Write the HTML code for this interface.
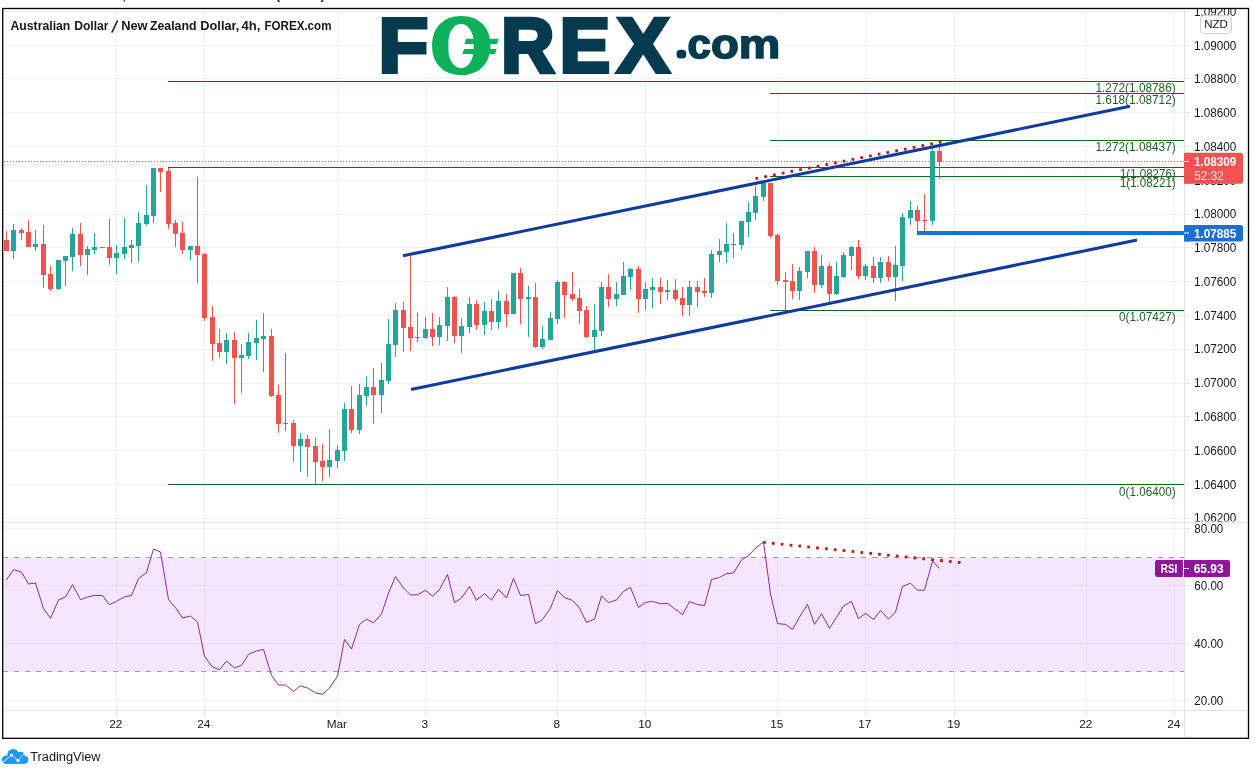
<!DOCTYPE html>
<html lang="en"><head><meta charset="utf-8"><title>AUD/NZD 4h chart</title>
<style>
html,body{margin:0;padding:0;background:#fff;}
svg text{font-family:"Liberation Sans", Arial, sans-serif;}
body{width:1255px;height:775px;position:relative;overflow:hidden;font-family:"Liberation Sans", Arial, sans-serif;}
</style></head><body>
<svg width="1255" height="775" viewBox="0 0 1255 775" style="position:absolute;left:0;top:0">
<rect x="0" y="0" width="1255" height="775" fill="#fff"/>
<defs><clipPath id="cpMain"><rect x="3" y="9" width="1245" height="512.5"/></clipPath><clipPath id="cpAll"><rect x="3" y="9" width="1245" height="729"/></clipPath></defs>
<g shape-rendering="crispEdges" stroke="#f0f0f1" stroke-width="1">
<line x1="116.5" y1="9" x2="116.5" y2="710"/>
<line x1="116.5" y1="710" x2="116.5" y2="716" stroke="#e1e3e9"/>
<line x1="204.5" y1="9" x2="204.5" y2="710"/>
<line x1="204.5" y1="710" x2="204.5" y2="716" stroke="#e1e3e9"/>
<line x1="337.5" y1="9" x2="337.5" y2="710"/>
<line x1="337.5" y1="710" x2="337.5" y2="716" stroke="#e1e3e9"/>
<line x1="425.5" y1="9" x2="425.5" y2="710"/>
<line x1="425.5" y1="710" x2="425.5" y2="716" stroke="#e1e3e9"/>
<line x1="557.5" y1="9" x2="557.5" y2="710"/>
<line x1="557.5" y1="710" x2="557.5" y2="716" stroke="#e1e3e9"/>
<line x1="645.5" y1="9" x2="645.5" y2="710"/>
<line x1="645.5" y1="710" x2="645.5" y2="716" stroke="#e1e3e9"/>
<line x1="777.5" y1="9" x2="777.5" y2="710"/>
<line x1="777.5" y1="710" x2="777.5" y2="716" stroke="#e1e3e9"/>
<line x1="865.5" y1="9" x2="865.5" y2="710"/>
<line x1="865.5" y1="710" x2="865.5" y2="716" stroke="#e1e3e9"/>
<line x1="954.5" y1="9" x2="954.5" y2="710"/>
<line x1="954.5" y1="710" x2="954.5" y2="716" stroke="#e1e3e9"/>
<line x1="1086.5" y1="9" x2="1086.5" y2="710"/>
<line x1="1086.5" y1="710" x2="1086.5" y2="716" stroke="#e1e3e9"/>
<line x1="1174.5" y1="9" x2="1174.5" y2="710"/>
<line x1="1174.5" y1="710" x2="1174.5" y2="716" stroke="#e1e3e9"/>
<line x1="3" y1="518.5" x2="1184" y2="518.5"/>
<line x1="1184" y1="518.5" x2="1189" y2="518.5" stroke="#e1e3e9"/>
<line x1="3" y1="484.5" x2="1184" y2="484.5"/>
<line x1="1184" y1="484.5" x2="1189" y2="484.5" stroke="#e1e3e9"/>
<line x1="3" y1="450.5" x2="1184" y2="450.5"/>
<line x1="1184" y1="450.5" x2="1189" y2="450.5" stroke="#e1e3e9"/>
<line x1="3" y1="416.5" x2="1184" y2="416.5"/>
<line x1="1184" y1="416.5" x2="1189" y2="416.5" stroke="#e1e3e9"/>
<line x1="3" y1="383.5" x2="1184" y2="383.5"/>
<line x1="1184" y1="383.5" x2="1189" y2="383.5" stroke="#e1e3e9"/>
<line x1="3" y1="349.5" x2="1184" y2="349.5"/>
<line x1="1184" y1="349.5" x2="1189" y2="349.5" stroke="#e1e3e9"/>
<line x1="3" y1="315.5" x2="1184" y2="315.5"/>
<line x1="1184" y1="315.5" x2="1189" y2="315.5" stroke="#e1e3e9"/>
<line x1="3" y1="281.5" x2="1184" y2="281.5"/>
<line x1="1184" y1="281.5" x2="1189" y2="281.5" stroke="#e1e3e9"/>
<line x1="3" y1="247.5" x2="1184" y2="247.5"/>
<line x1="1184" y1="247.5" x2="1189" y2="247.5" stroke="#e1e3e9"/>
<line x1="3" y1="214.5" x2="1184" y2="214.5"/>
<line x1="1184" y1="214.5" x2="1189" y2="214.5" stroke="#e1e3e9"/>
<line x1="3" y1="180.5" x2="1184" y2="180.5"/>
<line x1="1184" y1="180.5" x2="1189" y2="180.5" stroke="#e1e3e9"/>
<line x1="3" y1="146.5" x2="1184" y2="146.5"/>
<line x1="1184" y1="146.5" x2="1189" y2="146.5" stroke="#e1e3e9"/>
<line x1="3" y1="112.5" x2="1184" y2="112.5"/>
<line x1="1184" y1="112.5" x2="1189" y2="112.5" stroke="#e1e3e9"/>
<line x1="3" y1="78.5" x2="1184" y2="78.5"/>
<line x1="1184" y1="78.5" x2="1189" y2="78.5" stroke="#e1e3e9"/>
<line x1="3" y1="45.5" x2="1184" y2="45.5"/>
<line x1="1184" y1="45.5" x2="1189" y2="45.5" stroke="#e1e3e9"/>
<line x1="3" y1="11.5" x2="1184" y2="11.5"/>
<line x1="1184" y1="11.5" x2="1189" y2="11.5" stroke="#e1e3e9"/>
<line x1="3" y1="528.5" x2="1184" y2="528.5"/>
<line x1="1184" y1="528.5" x2="1189" y2="528.5" stroke="#e1e3e9"/>
<line x1="3" y1="585.5" x2="1184" y2="585.5"/>
<line x1="1184" y1="585.5" x2="1189" y2="585.5" stroke="#e1e3e9"/>
<line x1="3" y1="643.5" x2="1184" y2="643.5"/>
<line x1="1184" y1="643.5" x2="1189" y2="643.5" stroke="#e1e3e9"/>
<line x1="3" y1="700.5" x2="1184" y2="700.5"/>
<line x1="1184" y1="700.5" x2="1189" y2="700.5" stroke="#e1e3e9"/>
</g>
<rect x="3" y="557" width="1181" height="115" fill="#f4e7fd"/>
<g stroke="#eadff1" stroke-width="1" shape-rendering="crispEdges">
<line x1="116.5" y1="558" x2="116.5" y2="671"/>
<line x1="204.5" y1="558" x2="204.5" y2="671"/>
<line x1="337.5" y1="558" x2="337.5" y2="671"/>
<line x1="425.5" y1="558" x2="425.5" y2="671"/>
<line x1="557.5" y1="558" x2="557.5" y2="671"/>
<line x1="645.5" y1="558" x2="645.5" y2="671"/>
<line x1="777.5" y1="558" x2="777.5" y2="671"/>
<line x1="865.5" y1="558" x2="865.5" y2="671"/>
<line x1="954.5" y1="558" x2="954.5" y2="671"/>
<line x1="1086.5" y1="558" x2="1086.5" y2="671"/>
<line x1="1174.5" y1="558" x2="1174.5" y2="671"/>
<line x1="3" y1="585.5" x2="1184" y2="585.5"/>
<line x1="3" y1="643.5" x2="1184" y2="643.5"/>
</g>
<g stroke="#a298aa" stroke-width="1" stroke-dasharray="5 6" shape-rendering="crispEdges"><line x1="3" y1="557.5" x2="1184" y2="557.5"/><line x1="3" y1="671.5" x2="1184" y2="671.5"/></g>
<g text-rendering="geometricPrecision">
<rect x="380" y="15.4" width="399.2" height="59.7" fill="#fff"/>
<text transform="matrix(0.8141 0 0 0.7704 378.45 72.20)" x="0" y="0" font-size="100px" font-weight="bold" fill="#053a4f" stroke="#053a4f" stroke-width="5.30" stroke-linejoin="miter">F</text>
<text transform="matrix(0.7398 0 0 0.7373 432.47 70.78)" x="0" y="0" font-size="100px" font-weight="bold" fill="#0db15c" stroke="#0db15c" stroke-width="9.48" stroke-linejoin="round">O</text>
<ellipse cx="461.2" cy="45.4" rx="21" ry="25.5" fill="#0db15c"/>
<rect x="448.4" y="23.9" width="25.2" height="44.3" rx="12.6" ry="18.5" fill="#fff"/>
<polygon points="466.1,38.8 498.8,38.8 497.0,44.0 464.3,44.0" fill="#0db15c"/>
<polygon points="464.1,49.0 496.8,49.0 495.0,54.1 462.3,54.1" fill="#0db15c"/>
<text transform="matrix(0.7341 0 0 0.7704 501.29 72.20)" x="0" y="0" font-size="100px" font-weight="bold" fill="#053a4f" stroke="#053a4f" stroke-width="5.58" stroke-linejoin="miter">R</text>
<text transform="matrix(0.7540 0 0 0.7704 559.86 72.20)" x="0" y="0" font-size="100px" font-weight="bold" fill="#053a4f" stroke="#053a4f" stroke-width="5.51" stroke-linejoin="miter">E</text>
<text transform="matrix(0.7853 0 0 0.7733 617.11 72.30)" x="0" y="0" font-size="100px" font-weight="bold" fill="#053a4f" stroke="#053a4f" stroke-width="5.13" stroke-linejoin="miter">X</text>
<text transform="matrix(0.1205 0 0 0.1074 679.68 54.80)" x="0" y="0" font-size="100px" font-weight="bold" fill="#053a4f" stroke="#053a4f" stroke-width="66.80" stroke-linejoin="round">.</text>
<text transform="matrix(0.4182 0 0 0.4143 687.47 58.10)" x="0" y="0" font-size="100px" font-weight="bold" fill="#053a4f" stroke="#053a4f" stroke-width="3.84" stroke-linejoin="miter">c</text>
<text transform="matrix(0.4562 0 0 0.4143 711.12 58.10)" x="0" y="0" font-size="100px" font-weight="bold" fill="#053a4f" stroke="#053a4f" stroke-width="3.68" stroke-linejoin="miter">o</text>
<text transform="matrix(0.4664 0 0 0.4029 738.83 57.70)" x="0" y="0" font-size="100px" font-weight="bold" fill="#053a4f" stroke="#053a4f" stroke-width="3.69" stroke-linejoin="miter">m</text>
</g>
<g stroke="#1f6124" stroke-width="1" shape-rendering="crispEdges">
<line x1="168" y1="81.5" x2="1184" y2="81.5"/>
<line x1="770" y1="93.5" x2="1184" y2="93.5"/>
<line x1="770" y1="140.5" x2="1184" y2="140.5"/>
<line x1="168" y1="167.5" x2="1184" y2="167.5"/>
<line x1="770" y1="176.5" x2="1184" y2="176.5"/>
<line x1="770" y1="310.5" x2="1184" y2="310.5"/>
<line x1="168" y1="484.5" x2="1184" y2="484.5"/>
</g>
<g fill="#1f6124" font-size="12px" text-anchor="end">
<text x="1175.7" y="91.8" textLength="80.2" lengthAdjust="spacingAndGlyphs">1.272(1.08786)</text>
<text x="1175.7" y="103.6" textLength="80.2" lengthAdjust="spacingAndGlyphs">1.618(1.08712)</text>
<text x="1175.7" y="150.6" textLength="80.2" lengthAdjust="spacingAndGlyphs">1.272(1.08437)</text>
<text x="1175.7" y="177.5" textLength="55.8" lengthAdjust="spacingAndGlyphs">1(1.08276)</text>
<text x="1175.7" y="186.5" textLength="55.8" lengthAdjust="spacingAndGlyphs">1(1.08221)</text>
<text x="1175.7" y="320.5" textLength="56.6" lengthAdjust="spacingAndGlyphs">0(1.07427)</text>
<text x="1175.7" y="495.5" textLength="56.6" lengthAdjust="spacingAndGlyphs">0(1.06400)</text>
</g>
<line x1="4" y1="161.5" x2="1184" y2="161.5" stroke="#ef5350" stroke-width="1" stroke-dasharray="1 2" shape-rendering="crispEdges"/>
<g shape-rendering="crispEdges" clip-path="url(#cpMain)">
<rect x="6" y="231" width="1" height="20" fill="#ef5350"/>
<rect x="4" y="240" width="5" height="11" fill="#ef5350"/>
<rect x="13" y="224" width="1" height="35" fill="#26a69a"/>
<rect x="11" y="230" width="5" height="21" fill="#26a69a"/>
<rect x="21" y="228" width="1" height="12" fill="#ef5350"/>
<rect x="19" y="230" width="5" height="3" fill="#ef5350"/>
<rect x="28" y="220" width="1" height="27" fill="#ef5350"/>
<rect x="26" y="232" width="5" height="15" fill="#ef5350"/>
<rect x="35" y="230" width="1" height="21" fill="#26a69a"/>
<rect x="33" y="244" width="5" height="3" fill="#26a69a"/>
<rect x="43" y="225" width="1" height="63" fill="#ef5350"/>
<rect x="41" y="244" width="5" height="31" fill="#ef5350"/>
<rect x="50" y="266" width="1" height="25" fill="#ef5350"/>
<rect x="48" y="274" width="5" height="15" fill="#ef5350"/>
<rect x="58" y="260" width="1" height="30" fill="#26a69a"/>
<rect x="56" y="260" width="5" height="29" fill="#26a69a"/>
<rect x="65" y="256" width="1" height="30" fill="#26a69a"/>
<rect x="63" y="256" width="5" height="5" fill="#26a69a"/>
<rect x="72" y="228" width="1" height="43" fill="#26a69a"/>
<rect x="70" y="234" width="5" height="23" fill="#26a69a"/>
<rect x="80" y="223" width="1" height="43" fill="#ef5350"/>
<rect x="78" y="234" width="5" height="21" fill="#ef5350"/>
<rect x="87" y="246" width="1" height="29" fill="#26a69a"/>
<rect x="85" y="249" width="5" height="6" fill="#26a69a"/>
<rect x="94" y="233" width="1" height="21" fill="#26a69a"/>
<rect x="92" y="247" width="5" height="3" fill="#26a69a"/>
<rect x="102" y="247" width="1" height="1" fill="#ef5350"/>
<rect x="100" y="247" width="5" height="1" fill="#ef5350"/>
<rect x="109" y="219" width="1" height="46" fill="#ef5350"/>
<rect x="107" y="247" width="5" height="11" fill="#ef5350"/>
<rect x="116" y="245" width="1" height="29" fill="#26a69a"/>
<rect x="114" y="253" width="5" height="5" fill="#26a69a"/>
<rect x="124" y="218" width="1" height="41" fill="#26a69a"/>
<rect x="122" y="247" width="5" height="7" fill="#26a69a"/>
<rect x="131" y="240" width="1" height="23" fill="#26a69a"/>
<rect x="129" y="245" width="5" height="3" fill="#26a69a"/>
<rect x="138" y="212" width="1" height="50" fill="#26a69a"/>
<rect x="136" y="223" width="5" height="23" fill="#26a69a"/>
<rect x="146" y="185" width="1" height="41" fill="#26a69a"/>
<rect x="144" y="215" width="5" height="9" fill="#26a69a"/>
<rect x="153" y="168" width="1" height="55" fill="#26a69a"/>
<rect x="151" y="168" width="5" height="48" fill="#26a69a"/>
<rect x="160" y="168" width="1" height="24" fill="#ef5350"/>
<rect x="158" y="168" width="5" height="4" fill="#ef5350"/>
<rect x="168" y="168" width="1" height="61" fill="#ef5350"/>
<rect x="166" y="171" width="5" height="53" fill="#ef5350"/>
<rect x="175" y="220" width="1" height="27" fill="#ef5350"/>
<rect x="173" y="223" width="5" height="11" fill="#ef5350"/>
<rect x="182" y="222" width="1" height="32" fill="#ef5350"/>
<rect x="180" y="233" width="5" height="17" fill="#ef5350"/>
<rect x="190" y="246" width="1" height="14" fill="#26a69a"/>
<rect x="188" y="246" width="5" height="4" fill="#26a69a"/>
<rect x="197" y="177" width="1" height="106" fill="#ef5350"/>
<rect x="195" y="246" width="5" height="9" fill="#ef5350"/>
<rect x="204" y="253" width="1" height="68" fill="#ef5350"/>
<rect x="202" y="254" width="5" height="64" fill="#ef5350"/>
<rect x="212" y="306" width="1" height="55" fill="#ef5350"/>
<rect x="210" y="317" width="5" height="27" fill="#ef5350"/>
<rect x="219" y="329" width="1" height="29" fill="#ef5350"/>
<rect x="217" y="343" width="5" height="9" fill="#ef5350"/>
<rect x="226" y="333" width="1" height="31" fill="#26a69a"/>
<rect x="224" y="340" width="5" height="12" fill="#26a69a"/>
<rect x="234" y="332" width="1" height="72" fill="#ef5350"/>
<rect x="232" y="340" width="5" height="18" fill="#ef5350"/>
<rect x="241" y="344" width="1" height="49" fill="#26a69a"/>
<rect x="239" y="355" width="5" height="3" fill="#26a69a"/>
<rect x="248" y="333" width="1" height="26" fill="#26a69a"/>
<rect x="246" y="342" width="5" height="14" fill="#26a69a"/>
<rect x="256" y="320" width="1" height="40" fill="#26a69a"/>
<rect x="254" y="338" width="5" height="5" fill="#26a69a"/>
<rect x="263" y="313" width="1" height="59" fill="#26a69a"/>
<rect x="261" y="336" width="5" height="3" fill="#26a69a"/>
<rect x="271" y="329" width="1" height="68" fill="#ef5350"/>
<rect x="269" y="336" width="5" height="60" fill="#ef5350"/>
<rect x="278" y="385" width="1" height="48" fill="#ef5350"/>
<rect x="276" y="395" width="5" height="29" fill="#ef5350"/>
<rect x="285" y="353" width="1" height="78" fill="#26a69a"/>
<rect x="283" y="423" width="5" height="1" fill="#26a69a"/>
<rect x="293" y="420" width="1" height="42" fill="#ef5350"/>
<rect x="291" y="423" width="5" height="23" fill="#ef5350"/>
<rect x="300" y="433" width="1" height="39" fill="#26a69a"/>
<rect x="298" y="439" width="5" height="7" fill="#26a69a"/>
<rect x="307" y="435" width="1" height="42" fill="#ef5350"/>
<rect x="305" y="439" width="5" height="8" fill="#ef5350"/>
<rect x="315" y="438" width="1" height="46" fill="#ef5350"/>
<rect x="313" y="446" width="5" height="16" fill="#ef5350"/>
<rect x="322" y="444" width="1" height="37" fill="#ef5350"/>
<rect x="320" y="461" width="5" height="6" fill="#ef5350"/>
<rect x="329" y="429" width="1" height="48" fill="#26a69a"/>
<rect x="327" y="460" width="5" height="7" fill="#26a69a"/>
<rect x="337" y="445" width="1" height="23" fill="#26a69a"/>
<rect x="335" y="450" width="5" height="11" fill="#26a69a"/>
<rect x="344" y="403" width="1" height="58" fill="#26a69a"/>
<rect x="342" y="409" width="5" height="42" fill="#26a69a"/>
<rect x="351" y="386" width="1" height="47" fill="#ef5350"/>
<rect x="349" y="409" width="5" height="21" fill="#ef5350"/>
<rect x="359" y="384" width="1" height="50" fill="#26a69a"/>
<rect x="357" y="395" width="5" height="35" fill="#26a69a"/>
<rect x="366" y="377" width="1" height="29" fill="#26a69a"/>
<rect x="364" y="387" width="5" height="9" fill="#26a69a"/>
<rect x="373" y="368" width="1" height="55" fill="#ef5350"/>
<rect x="371" y="387" width="5" height="8" fill="#ef5350"/>
<rect x="381" y="363" width="1" height="50" fill="#26a69a"/>
<rect x="379" y="380" width="5" height="15" fill="#26a69a"/>
<rect x="388" y="319" width="1" height="65" fill="#26a69a"/>
<rect x="386" y="344" width="5" height="37" fill="#26a69a"/>
<rect x="395" y="303" width="1" height="54" fill="#26a69a"/>
<rect x="393" y="310" width="5" height="35" fill="#26a69a"/>
<rect x="403" y="302" width="1" height="50" fill="#ef5350"/>
<rect x="401" y="310" width="5" height="18" fill="#ef5350"/>
<rect x="410" y="256" width="1" height="95" fill="#ef5350"/>
<rect x="408" y="327" width="5" height="11" fill="#ef5350"/>
<rect x="417" y="313" width="1" height="29" fill="#26a69a"/>
<rect x="415" y="337" width="5" height="1" fill="#26a69a"/>
<rect x="425" y="317" width="1" height="22" fill="#26a69a"/>
<rect x="423" y="329" width="5" height="9" fill="#26a69a"/>
<rect x="432" y="313" width="1" height="33" fill="#ef5350"/>
<rect x="430" y="329" width="5" height="8" fill="#ef5350"/>
<rect x="439" y="317" width="1" height="28" fill="#26a69a"/>
<rect x="437" y="325" width="5" height="12" fill="#26a69a"/>
<rect x="447" y="287" width="1" height="54" fill="#26a69a"/>
<rect x="445" y="297" width="5" height="29" fill="#26a69a"/>
<rect x="454" y="296" width="1" height="47" fill="#ef5350"/>
<rect x="452" y="297" width="5" height="39" fill="#ef5350"/>
<rect x="461" y="318" width="1" height="35" fill="#26a69a"/>
<rect x="459" y="326" width="5" height="10" fill="#26a69a"/>
<rect x="469" y="297" width="1" height="36" fill="#26a69a"/>
<rect x="467" y="304" width="5" height="23" fill="#26a69a"/>
<rect x="476" y="300" width="1" height="30" fill="#ef5350"/>
<rect x="474" y="304" width="5" height="21" fill="#ef5350"/>
<rect x="484" y="302" width="1" height="33" fill="#26a69a"/>
<rect x="482" y="311" width="5" height="14" fill="#26a69a"/>
<rect x="491" y="299" width="1" height="31" fill="#ef5350"/>
<rect x="489" y="311" width="5" height="11" fill="#ef5350"/>
<rect x="498" y="291" width="1" height="38" fill="#26a69a"/>
<rect x="496" y="301" width="5" height="21" fill="#26a69a"/>
<rect x="506" y="294" width="1" height="33" fill="#ef5350"/>
<rect x="504" y="301" width="5" height="13" fill="#ef5350"/>
<rect x="513" y="273" width="1" height="41" fill="#26a69a"/>
<rect x="511" y="273" width="5" height="41" fill="#26a69a"/>
<rect x="520" y="268" width="1" height="56" fill="#ef5350"/>
<rect x="518" y="273" width="5" height="26" fill="#ef5350"/>
<rect x="528" y="286" width="1" height="51" fill="#26a69a"/>
<rect x="526" y="297" width="5" height="2" fill="#26a69a"/>
<rect x="535" y="283" width="1" height="65" fill="#ef5350"/>
<rect x="533" y="297" width="5" height="50" fill="#ef5350"/>
<rect x="542" y="326" width="1" height="23" fill="#26a69a"/>
<rect x="540" y="339" width="5" height="8" fill="#26a69a"/>
<rect x="550" y="312" width="1" height="28" fill="#26a69a"/>
<rect x="548" y="318" width="5" height="22" fill="#26a69a"/>
<rect x="557" y="280" width="1" height="44" fill="#26a69a"/>
<rect x="555" y="282" width="5" height="37" fill="#26a69a"/>
<rect x="564" y="281" width="1" height="37" fill="#ef5350"/>
<rect x="562" y="282" width="5" height="13" fill="#ef5350"/>
<rect x="572" y="272" width="1" height="29" fill="#ef5350"/>
<rect x="570" y="294" width="5" height="5" fill="#ef5350"/>
<rect x="579" y="289" width="1" height="35" fill="#ef5350"/>
<rect x="577" y="298" width="5" height="13" fill="#ef5350"/>
<rect x="586" y="306" width="1" height="32" fill="#ef5350"/>
<rect x="584" y="310" width="5" height="27" fill="#ef5350"/>
<rect x="594" y="304" width="1" height="46" fill="#26a69a"/>
<rect x="592" y="330" width="5" height="7" fill="#26a69a"/>
<rect x="601" y="282" width="1" height="54" fill="#26a69a"/>
<rect x="599" y="287" width="5" height="44" fill="#26a69a"/>
<rect x="608" y="274" width="1" height="33" fill="#ef5350"/>
<rect x="606" y="287" width="5" height="12" fill="#ef5350"/>
<rect x="616" y="282" width="1" height="24" fill="#26a69a"/>
<rect x="614" y="294" width="5" height="5" fill="#26a69a"/>
<rect x="623" y="262" width="1" height="33" fill="#26a69a"/>
<rect x="621" y="276" width="5" height="19" fill="#26a69a"/>
<rect x="630" y="268" width="1" height="22" fill="#26a69a"/>
<rect x="628" y="269" width="5" height="8" fill="#26a69a"/>
<rect x="638" y="266" width="1" height="47" fill="#ef5350"/>
<rect x="636" y="269" width="5" height="30" fill="#ef5350"/>
<rect x="645" y="282" width="1" height="28" fill="#26a69a"/>
<rect x="643" y="289" width="5" height="10" fill="#26a69a"/>
<rect x="652" y="278" width="1" height="30" fill="#26a69a"/>
<rect x="650" y="287" width="5" height="3" fill="#26a69a"/>
<rect x="660" y="278" width="1" height="26" fill="#ef5350"/>
<rect x="658" y="287" width="5" height="5" fill="#ef5350"/>
<rect x="667" y="280" width="1" height="20" fill="#26a69a"/>
<rect x="665" y="290" width="5" height="2" fill="#26a69a"/>
<rect x="675" y="279" width="1" height="22" fill="#ef5350"/>
<rect x="673" y="290" width="5" height="9" fill="#ef5350"/>
<rect x="682" y="287" width="1" height="29" fill="#ef5350"/>
<rect x="680" y="298" width="5" height="7" fill="#ef5350"/>
<rect x="689" y="281" width="1" height="35" fill="#26a69a"/>
<rect x="687" y="287" width="5" height="18" fill="#26a69a"/>
<rect x="697" y="281" width="1" height="26" fill="#ef5350"/>
<rect x="695" y="287" width="5" height="5" fill="#ef5350"/>
<rect x="704" y="278" width="1" height="19" fill="#ef5350"/>
<rect x="702" y="291" width="5" height="2" fill="#ef5350"/>
<rect x="711" y="250" width="1" height="48" fill="#26a69a"/>
<rect x="709" y="254" width="5" height="39" fill="#26a69a"/>
<rect x="719" y="239" width="1" height="23" fill="#26a69a"/>
<rect x="717" y="251" width="5" height="4" fill="#26a69a"/>
<rect x="726" y="223" width="1" height="40" fill="#26a69a"/>
<rect x="724" y="244" width="5" height="8" fill="#26a69a"/>
<rect x="733" y="233" width="1" height="25" fill="#26a69a"/>
<rect x="731" y="244" width="5" height="1" fill="#26a69a"/>
<rect x="741" y="221" width="1" height="29" fill="#26a69a"/>
<rect x="739" y="221" width="5" height="24" fill="#26a69a"/>
<rect x="748" y="202" width="1" height="35" fill="#26a69a"/>
<rect x="746" y="212" width="5" height="10" fill="#26a69a"/>
<rect x="755" y="186" width="1" height="34" fill="#26a69a"/>
<rect x="753" y="196" width="5" height="17" fill="#26a69a"/>
<rect x="763" y="183" width="1" height="18" fill="#26a69a"/>
<rect x="761" y="183" width="5" height="14" fill="#26a69a"/>
<rect x="770" y="183" width="1" height="55" fill="#ef5350"/>
<rect x="768" y="183" width="5" height="53" fill="#ef5350"/>
<rect x="777" y="234" width="1" height="51" fill="#ef5350"/>
<rect x="775" y="235" width="5" height="46" fill="#ef5350"/>
<rect x="785" y="272" width="1" height="39" fill="#ef5350"/>
<rect x="783" y="280" width="5" height="2" fill="#ef5350"/>
<rect x="792" y="264" width="1" height="35" fill="#ef5350"/>
<rect x="790" y="281" width="5" height="10" fill="#ef5350"/>
<rect x="799" y="267" width="1" height="33" fill="#26a69a"/>
<rect x="797" y="271" width="5" height="20" fill="#26a69a"/>
<rect x="807" y="251" width="1" height="27" fill="#26a69a"/>
<rect x="805" y="251" width="5" height="21" fill="#26a69a"/>
<rect x="814" y="247" width="1" height="46" fill="#ef5350"/>
<rect x="812" y="251" width="5" height="34" fill="#ef5350"/>
<rect x="821" y="255" width="1" height="33" fill="#26a69a"/>
<rect x="819" y="266" width="5" height="19" fill="#26a69a"/>
<rect x="829" y="263" width="1" height="39" fill="#ef5350"/>
<rect x="827" y="266" width="5" height="28" fill="#ef5350"/>
<rect x="836" y="262" width="1" height="33" fill="#26a69a"/>
<rect x="834" y="276" width="5" height="18" fill="#26a69a"/>
<rect x="843" y="252" width="1" height="26" fill="#26a69a"/>
<rect x="841" y="255" width="5" height="22" fill="#26a69a"/>
<rect x="851" y="246" width="1" height="24" fill="#26a69a"/>
<rect x="849" y="247" width="5" height="9" fill="#26a69a"/>
<rect x="858" y="240" width="1" height="39" fill="#ef5350"/>
<rect x="856" y="247" width="5" height="29" fill="#ef5350"/>
<rect x="865" y="264" width="1" height="16" fill="#26a69a"/>
<rect x="863" y="266" width="5" height="10" fill="#26a69a"/>
<rect x="873" y="257" width="1" height="26" fill="#ef5350"/>
<rect x="871" y="266" width="5" height="12" fill="#ef5350"/>
<rect x="880" y="257" width="1" height="26" fill="#26a69a"/>
<rect x="878" y="262" width="5" height="16" fill="#26a69a"/>
<rect x="888" y="256" width="1" height="25" fill="#ef5350"/>
<rect x="886" y="262" width="5" height="15" fill="#ef5350"/>
<rect x="895" y="246" width="1" height="55" fill="#26a69a"/>
<rect x="893" y="265" width="5" height="12" fill="#26a69a"/>
<rect x="902" y="213" width="1" height="68" fill="#26a69a"/>
<rect x="900" y="217" width="5" height="49" fill="#26a69a"/>
<rect x="910" y="201" width="1" height="24" fill="#26a69a"/>
<rect x="908" y="210" width="5" height="8" fill="#26a69a"/>
<rect x="917" y="206" width="1" height="26" fill="#ef5350"/>
<rect x="915" y="210" width="5" height="11" fill="#ef5350"/>
<rect x="924" y="194" width="1" height="38" fill="#ef5350"/>
<rect x="922" y="220" width="5" height="1" fill="#ef5350"/>
<rect x="932" y="146" width="1" height="79" fill="#26a69a"/>
<rect x="930" y="151" width="5" height="70" fill="#26a69a"/>
<rect x="939" y="143" width="1" height="36" fill="#ef5350"/>
<rect x="937" y="151" width="5" height="11" fill="#ef5350"/>
</g>
<g stroke="#0d3c9c" stroke-width="3.1" stroke-linecap="butt">
<line x1="403" y1="255.8" x2="1130" y2="106.3"/>
<line x1="411" y1="389.4" x2="1137" y2="240.1"/>
</g>
<line x1="917" y1="232.9" x2="1184" y2="232.9" stroke="#1c70d0" stroke-width="4"/>
<g stroke="#b71c1c" stroke-width="2.8" stroke-dasharray="2.8 6.1">
<line x1="755.5" y1="178.6" x2="943.5" y2="141.5"/>
<line x1="763" y1="542.3" x2="961.8" y2="562.7"/>
</g>
<polyline points="6.5,580.0 13.5,569.6 21.5,572.0 28.5,584.0 35.5,583.0 43.5,608.6 50.5,618.4 58.5,600.0 65.5,597.0 72.5,584.6 80.5,599.6 87.5,597.0 94.5,595.4 102.5,595.6 109.5,604.6 116.5,601.4 124.5,596.8 131.5,595.4 138.5,578.6 146.5,572.6 153.5,549.0 160.5,552.0 168.5,599.6 175.5,607.6 182.5,618.0 190.5,616.0 197.5,622.0 204.5,656.4 212.5,667.0 219.5,669.8 226.5,661.0 234.5,667.8 241.5,665.4 248.5,654.4 256.5,651.0 263.5,649.4 271.5,675.4 278.5,685.0 285.5,685.0 293.5,691.4 300.5,685.8 307.5,688.0 315.5,692.8 322.5,694.4 329.5,688.0 337.5,676.0 344.5,639.4 351.5,649.0 359.5,624.4 366.5,619.2 373.5,622.8 381.5,614.0 388.5,593.0 395.5,576.6 403.5,588.0 410.5,595.0 417.5,594.8 425.5,590.4 432.5,596.0 439.5,589.6 447.5,574.4 454.5,602.6 461.5,598.0 469.5,586.4 476.5,600.2 484.5,593.6 491.5,600.0 498.5,589.4 506.5,598.0 513.5,578.4 520.5,595.4 528.5,594.6 535.5,623.6 542.5,619.6 550.5,608.0 557.5,590.6 564.5,597.6 572.5,600.4 579.5,608.0 586.5,622.4 594.5,619.2 601.5,596.0 608.5,602.6 616.5,600.0 623.5,591.2 630.5,587.6 638.5,607.4 645.5,602.4 652.5,601.4 660.5,603.8 667.5,603.4 675.5,609.4 682.5,614.6 689.5,601.6 697.5,604.6 704.5,605.6 711.5,579.6 719.5,577.4 726.5,573.6 733.5,573.0 741.5,560.0 748.5,555.6 755.5,548.0 763.5,542.0 770.5,594.0 777.5,623.6 785.5,624.4 792.5,629.6 799.5,617.0 807.5,604.4 814.5,624.4 821.5,613.6 829.5,628.4 836.5,617.4 843.5,606.0 851.5,601.4 858.5,618.6 865.5,613.4 873.5,619.6 880.5,610.4 888.5,619.2 895.5,612.0 902.5,586.4 910.5,583.2 917.5,590.2 924.5,590.2 932.5,561.0 939.5,568.4" fill="none" stroke="#9624a8" stroke-width="1" stroke-linejoin="round"/>
<g shape-rendering="crispEdges" stroke="#e1e3e9" stroke-width="1">
<line x1="1184.5" y1="9" x2="1184.5" y2="737"/>
<line x1="3" y1="710.5" x2="1248" y2="710.5"/>
<line x1="3" y1="522.5" x2="1248" y2="522.5"/>
</g>
<g fill="#131722" font-size="12px" clip-path="url(#cpMain)">
<text x="1193.9" y="522.3" textLength="42.4" lengthAdjust="spacingAndGlyphs">1.06200</text>
<text x="1193.9" y="488.5" textLength="42.4" lengthAdjust="spacingAndGlyphs">1.06400</text>
<text x="1193.9" y="454.7" textLength="42.4" lengthAdjust="spacingAndGlyphs">1.06600</text>
<text x="1193.9" y="421.0" textLength="42.4" lengthAdjust="spacingAndGlyphs">1.06800</text>
<text x="1193.9" y="387.2" textLength="42.4" lengthAdjust="spacingAndGlyphs">1.07000</text>
<text x="1193.9" y="353.4" textLength="42.4" lengthAdjust="spacingAndGlyphs">1.07200</text>
<text x="1193.9" y="319.6" textLength="42.4" lengthAdjust="spacingAndGlyphs">1.07400</text>
<text x="1193.9" y="285.9" textLength="42.4" lengthAdjust="spacingAndGlyphs">1.07600</text>
<text x="1193.9" y="252.1" textLength="42.4" lengthAdjust="spacingAndGlyphs">1.07800</text>
<text x="1193.9" y="218.3" textLength="42.4" lengthAdjust="spacingAndGlyphs">1.08000</text>
<text x="1193.9" y="184.6" textLength="42.4" lengthAdjust="spacingAndGlyphs">1.08200</text>
<text x="1193.9" y="150.8" textLength="42.4" lengthAdjust="spacingAndGlyphs">1.08400</text>
<text x="1193.9" y="117.0" textLength="42.4" lengthAdjust="spacingAndGlyphs">1.08600</text>
<text x="1193.9" y="83.3" textLength="42.4" lengthAdjust="spacingAndGlyphs">1.08800</text>
<text x="1193.9" y="49.5" textLength="42.4" lengthAdjust="spacingAndGlyphs">1.09000</text>
<text x="1193.9" y="15.7" textLength="42.4" lengthAdjust="spacingAndGlyphs">1.09200</text>
</g>
<g fill="#131722" font-size="12px">
<text x="1194.3" y="533.0" textLength="29" lengthAdjust="spacingAndGlyphs">80.00</text>
<text x="1194.3" y="590.1" textLength="29" lengthAdjust="spacingAndGlyphs">60.00</text>
<text x="1194.3" y="647.8" textLength="29" lengthAdjust="spacingAndGlyphs">40.00</text>
<text x="1194.3" y="705.1" textLength="29" lengthAdjust="spacingAndGlyphs">20.00</text>
</g>
<g fill="#131722" font-size="11.8px" text-anchor="middle">
<text x="115.8" y="728">22</text>
<text x="203.8" y="728">24</text>
<text x="336.8" y="728">Mar</text>
<text x="424.8" y="728">3</text>
<text x="556.8" y="728">8</text>
<text x="644.8" y="728">10</text>
<text x="776.8" y="728">15</text>
<text x="864.8" y="728">17</text>
<text x="953.8" y="728">19</text>
<text x="1085.8" y="728">22</text>
<text x="1173.8" y="728">24</text>
</g>
<rect x="1200.5" y="15.5" width="31" height="18" rx="3.5" fill="#fff" stroke="#cfd2dc" stroke-width="1"/>
<text x="1216" y="28.3" font-size="11.5px" fill="#131722" text-anchor="middle">NZD</text>
<rect x="1184" y="152.8" width="59" height="31" rx="2.5" fill="#ef5350"/>
<rect x="1184" y="152.8" width="5" height="31" fill="#ef5350"/>
<rect x="1184" y="161" width="5" height="1" fill="#fff"/>
<g fill="#fff" font-size="12px">
<text x="1193.9" y="165.9" font-weight="bold" textLength="42.4" lengthAdjust="spacingAndGlyphs">1.08309</text>
<text x="1194.3" y="179.8" fill="#fde4e3" textLength="29.6" lengthAdjust="spacingAndGlyphs">52:32</text>
</g>
<rect x="1184" y="225" width="59" height="16.5" rx="2.5" fill="#1c70d0"/>
<rect x="1184" y="225" width="5" height="16.5" fill="#1c70d0"/>
<rect x="1184" y="232.5" width="5" height="1" fill="#fff"/>
<text x="1193.9" y="237.8" font-size="12px" font-weight="bold" fill="#fff" textLength="42.4" lengthAdjust="spacingAndGlyphs">1.07885</text>
<rect x="1155" y="560" width="27.7" height="16.9" rx="2.2" fill="#8e1599"/>
<rect x="1184" y="560" width="46" height="16.9" rx="2.2" fill="#8e1599"/>
<rect x="1178" y="560" width="4.7" height="16.9" fill="#8e1599"/><rect x="1184" y="560" width="5" height="16.9" fill="#8e1599"/>
<rect x="1184" y="568" width="5" height="1" fill="#fff"/>
<text x="1169.1" y="572.8" font-size="12px" font-weight="bold" fill="#fff" text-anchor="middle" textLength="16.6" lengthAdjust="spacingAndGlyphs">RSI</text>
<text x="1193.7" y="573" font-size="12px" font-weight="bold" fill="#fff" textLength="30" lengthAdjust="spacingAndGlyphs">65.93</text>
<g font-size="13px" font-weight="bold" fill="#131722">
<text x="10.50" y="29.8" textLength="59.85" lengthAdjust="spacingAndGlyphs">Australian</text>
<text x="74.20" y="29.8" textLength="34.35" lengthAdjust="spacingAndGlyphs">Dollar</text>
<text transform="translate(111.6 31.6) skewX(-11)" x="0" y="0" font-size="15.5px" font-weight="normal" stroke="#131722" stroke-width="0.45">/</text>
<text x="121.20" y="29.8" textLength="26.40" lengthAdjust="spacingAndGlyphs">New</text>
<text x="150.00" y="29.8" textLength="46.50" lengthAdjust="spacingAndGlyphs">Zealand</text>
<text x="200.30" y="29.8" textLength="39.10" lengthAdjust="spacingAndGlyphs">Dollar,</text>
<text x="241.60" y="29.8" textLength="18.80" lengthAdjust="spacingAndGlyphs">4h,</text>
<text x="264.40" y="29.8" textLength="67.10" lengthAdjust="spacingAndGlyphs">FOREX.com</text>
</g>
<g font-size="14px" font-weight="bold" fill="#23262f"><text x="122.3" y="-1.4">,</text><text x="275.6" y="-1.2">(</text><text x="320.6" y="-1.2">)</text></g>
<rect x="2.7" y="8.5" width="1245.8" height="729.8" fill="none" stroke="#000" stroke-width="1.3"/>
<g fill="#2196f3">
<circle cx="13.1" cy="754.6" r="5.7"/>
<circle cx="20.6" cy="755.6" r="3.9"/>
<circle cx="6.1" cy="759.7" r="4.2"/>
<circle cx="24.2" cy="759.8" r="4.1"/>
<rect x="6.1" y="756" width="18.1" height="7.9"/>
</g>
<polyline points="2.6,762.4 11.7,755 18,760.4 24.3,753.2" fill="none" stroke="#fff" stroke-width="0.9"/>
<circle cx="11.7" cy="755" r="1.5" fill="#fff"/><circle cx="18" cy="760.4" r="1.5" fill="#fff"/>
<text x="30.2" y="760.7" font-size="12.3px" fill="#131722" textLength="70.4" lengthAdjust="spacingAndGlyphs">TradingView</text>
</svg>
</body></html>
